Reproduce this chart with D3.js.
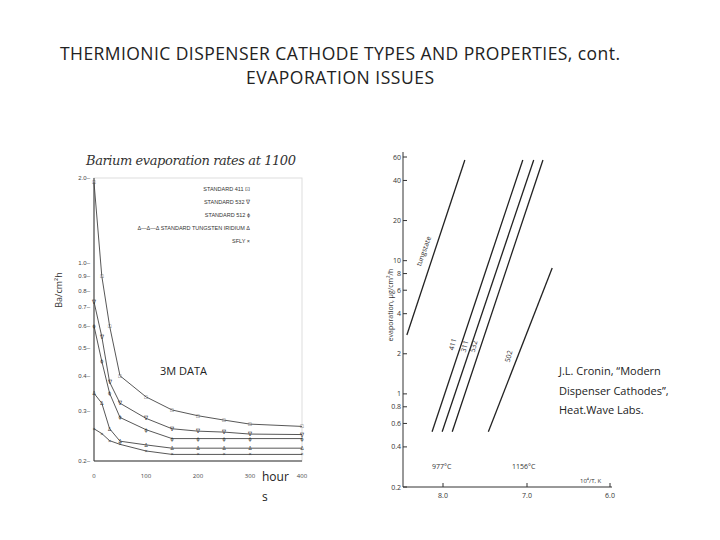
<!DOCTYPE html><html><head><meta charset="utf-8"><script src="https://d3js.org/d3.v7.min.js"></script>
<style>body{margin:0;background:#fff}</style></head><body><svg id="c" width="720" height="540"></svg><script>
// Left chart data (hours vs Ba evaporation)
const hours=[0,15,30,50,100,150,200,250,300,400];
const s411=[1.93,0.9,0.6,0.4,0.337,0.303,0.289,0.279,0.27,0.265];
const s532=[0.73,0.55,0.38,0.32,0.283,0.26,0.255,0.253,0.249,0.248];
const s512=[0.6,0.45,0.347,0.285,0.258,0.24,0.24,0.24,0.24,0.24];
const sTung=[0.347,0.32,0.26,0.235,0.228,0.222,0.222,0.222,0.222,0.222];
const sSfly=[0.26,0.25,0.236,0.229,0.217,0.211,0.211,0.211,0.211,0.211];
const leftSeries=[["STANDARD 411 ⊡","□",s411],["STANDARD 532 ∇","∇",s532],["STANDARD 512 ϕ","ϕ",s512],["Δ—Δ—Δ STANDARD TUNGSTEN IRIDIUM Δ","Δ",sTung],["SFLY ×","×",sSfly]];
const leftYTicks=[0.2,0.3,0.4,0.5,0.6,0.7,0.8,0.9,1.0,2.0];
const leftXTicks=[0,100,200,300,400];
// Right chart data (10^4/T vs evaporation)
const rightLines=[["tungstate",[8.43,7.74],[2.77,57]],["411",[8.13,7.05],[0.52,57]],["311",[8.01,6.92],[0.52,57]],["532",[7.89,6.81],[0.52,57]],["502",[7.46,6.7],[0.52,8.8]]];
const rightYTicks=[0.2,0.4,0.6,0.8,1,2,4,6,8,10,20,40,60];
const rightXTicks=[8.0,7.0,6.0];

const svg=d3.select("#c");
const T=(x,y,t,o={})=>{const e=svg.append("text").attr("x",x).attr("y",y).text(t).attr("font-family",o.f||"Open Sans, sans-serif").attr("font-size",o.s||12).attr("fill",o.c||"#222").attr("text-anchor",o.a||"start");if(o.r)e.attr("transform",`rotate(${o.r},${x},${y})`);if(o.i)e.attr("font-style","italic");return e;};
T(340,60,"THERMIONIC DISPENSER CATHODE TYPES AND PROPERTIES, cont.",{s:17.5,a:"middle"}).attr("textLength",560);
T(340,84,"EVAPORATION ISSUES",{s:17.5,a:"middle"}).attr("textLength",188);

// Left chart
const lx=d3.scaleLinear().domain([0,400]).range([94,302]);
const ly=d3.scaleLog().domain([0.2,2.0]).range([461,178]);
T(86,165,"Barium evaporation rates at 1100",{f:"DejaVu Serif",s:13,i:1,c:"#333"}).attr("textLength",210);
svg.append("rect").attr("x",94).attr("y",178).attr("width",208).attr("height",283).attr("fill","none").attr("stroke","#ddd");
svg.append("line").attr("x1",94).attr("x2",94).attr("y1",178).attr("y2",461).attr("stroke","#333");
svg.append("line").attr("x1",94).attr("x2",302).attr("y1",461).attr("y2",461).attr("stroke","#333");
leftYTicks.forEach(v=>{T(90,ly(v)+2,v.toFixed(1)+"–",{s:6,a:"end",c:"#444",f:"Liberation Sans Narrow, sans-serif"});});
leftXTicks.forEach(v=>{T(lx(v),478,v,{s:6,a:"middle",c:"#444"});});
T(62,290,"Ba/cm²h",{s:9,r:-90,a:"middle",c:"#333"});
const line=d3.line().x((d,i)=>lx(hours[i])).y(d=>ly(d));
leftSeries.forEach(([lab,sym,vals],k)=>{
  svg.append("path").attr("d",line(vals)).attr("fill","none").attr("stroke","#444").attr("stroke-width",0.9);
  vals.forEach((v,i)=>T(lx(hours[i]),ly(v)+2,sym,{s:5.5,a:"middle",c:"#333"}));
  T(250,191+k*13,lab,{s:5.5,a:"end",c:"#333",f:"Liberation Sans Narrow, sans-serif"});
});
T(160,375,"3M DATA",{s:11});
T(262,481,"hour",{s:12});T(262,501,"s",{s:12});

// Right chart
const rx=d3.scaleLinear().domain([8.0,7.0]).range([443,527]);
const ry=d3.scaleLog().domain([0.2,60]).range([487,157]);
svg.append("line").attr("x1",403).attr("x2",403).attr("y1",152).attr("y2",487).attr("stroke","#333");
svg.append("line").attr("x1",403).attr("x2",612).attr("y1",487).attr("y2",487).attr("stroke","#333");
rightYTicks.forEach(v=>{svg.append("line").attr("x1",403).attr("x2",407).attr("y1",ry(v)).attr("y2",ry(v)).attr("stroke","#333");T(401,ry(v)+2.5,String(v),{s:7,a:"end",c:"#333"});});
rightXTicks.forEach(v=>{const x=rx(v)+(v===6?-1:0);svg.append("line").attr("x1",x).attr("x2",x).attr("y1",487).attr("y2",483).attr("stroke","#333");T(x,498,v.toFixed(1),{s:7,a:"middle",c:"#333"});});
T(393,305,"evaporation, µg/cm²/h",{s:7,r:-90,a:"middle",c:"#333"});
T(432,469,"977°C",{s:7,c:"#333"});T(512,469,"1156°C",{s:7,c:"#333"});
T(580,483,"10⁴/T, K",{s:6,c:"#333"});
rightLines.forEach(([lab,xs,ys])=>{
  svg.append("line").attr("x1",rx(xs[0])).attr("y1",ry(ys[0])).attr("x2",rx(xs[1])).attr("y2",ry(ys[1])).attr("stroke","#222").attr("stroke-width",1.3);
});
T(426,252,"tungstate",{s:7,r:-70,a:"middle",c:"#333"});
T(455,345,"411",{s:7,r:-75,a:"middle",c:"#333"});
T(467,347,"311",{s:7,r:-75,a:"middle",c:"#333"});
T(476,347,"532",{s:7,r:-75,a:"middle",c:"#333"});
T(511,357,"502",{s:7,r:-75,a:"middle",c:"#333"});
T(559,375,"J.L. Cronin, “Modern",{s:11});
T(559,395,"Dispenser Cathodes”,",{s:11});
T(559,414,"Heat.Wave Labs.",{s:11});
</script></body></html>
